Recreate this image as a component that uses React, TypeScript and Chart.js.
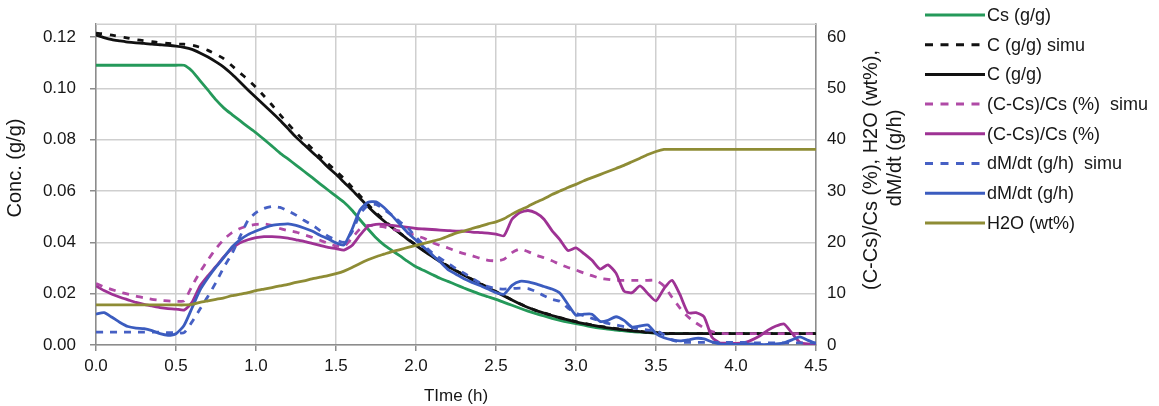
import React, { useEffect, useRef } from 'react';
import { Chart, registerables } from 'chart.js';

Chart.register(...registerables);

const FONT = "'Liberation Sans', Arial, Helvetica, sans-serif";

const times = [
  0, 0.05, 0.1, 0.15, 0.2, 0.25, 0.3, 0.35, 0.4, 0.45,
  0.5, 0.55, 0.6, 0.65, 0.7, 0.75, 0.8, 0.85, 0.9, 0.95,
  1.0, 1.05, 1.1, 1.15, 1.2, 1.25, 1.3, 1.35, 1.4, 1.45,
  1.5, 1.55, 1.6, 1.65, 1.7, 1.75, 1.8, 1.85, 1.9, 1.95,
  2.0, 2.05, 2.1, 2.15, 2.2, 2.25, 2.3, 2.35, 2.4, 2.45,
  2.5, 2.55, 2.6, 2.65, 2.7, 2.75, 2.8, 2.85, 2.9, 2.95,
  3.0, 3.05, 3.1, 3.15, 3.2, 3.25, 3.3, 3.35, 3.4, 3.45,
  3.5, 3.55, 3.6, 3.65, 3.7, 3.75, 3.8, 3.85, 3.9, 3.95,
  4.0, 4.05, 4.1, 4.15, 4.2, 4.25, 4.3, 4.35, 4.4, 4.45,
  4.5,
];

// Left axis (g/g)
const csValues = [
  0.109, 0.109, 0.109, 0.109, 0.109, 0.109, 0.109, 0.109, 0.109, 0.109,
  0.109, 0.109, 0.1068, 0.103, 0.0993, 0.0955, 0.0923, 0.0898, 0.0874, 0.085,
  0.0827, 0.0801, 0.0775, 0.0748, 0.0725, 0.0701, 0.0677, 0.0653, 0.0628, 0.0604,
  0.058, 0.0556, 0.0525, 0.0488, 0.0452, 0.0418, 0.039, 0.0368, 0.0347, 0.0325,
  0.0305, 0.029, 0.0275, 0.026, 0.0248, 0.0235, 0.0222, 0.021, 0.0198, 0.0188,
  0.0178, 0.0166, 0.0155, 0.0143, 0.0132, 0.0122, 0.0113, 0.0104, 0.0096, 0.0089,
  0.0083, 0.0077, 0.0071, 0.0066, 0.0062, 0.0058, 0.0055, 0.0052, 0.005, 0.0048,
  0.0046, 0.0044, 0.0044, 0.0044, 0.0044, 0.0044, 0.0044, 0.0044, 0.0044, 0.0044,
  0.0044, 0.0044, 0.0044, 0.0044, 0.0044, 0.0044, 0.0044, 0.0044, 0.0044, 0.0044,
  0.0044,
];

const cSimuValues = [
  0.1215, 0.1212, 0.1207, 0.1202, 0.1196, 0.119, 0.1186, 0.1182, 0.1178, 0.1175,
  0.1173, 0.1172, 0.1168, 0.116, 0.1148, 0.1133, 0.1115, 0.1088, 0.106, 0.1034,
  0.1004, 0.097, 0.0935, 0.0898, 0.0862, 0.0828, 0.0796, 0.0766, 0.0735, 0.0706,
  0.0678, 0.0648, 0.0615, 0.0582, 0.0548, 0.0516, 0.0487, 0.046, 0.0436, 0.0412,
  0.039, 0.0368, 0.0347, 0.0327, 0.0308, 0.029, 0.0273, 0.0256, 0.024, 0.0224,
  0.0208, 0.0192, 0.0176, 0.0161, 0.0147, 0.0135, 0.0125, 0.0116, 0.0107, 0.0099,
  0.0091, 0.0084, 0.0078, 0.0073, 0.0068, 0.0064, 0.006, 0.0056, 0.0053, 0.005,
  0.0048, 0.0046, 0.0045, 0.0044, 0.0044, 0.0044, 0.0044, 0.0044, 0.0044, 0.0044,
  0.0044, 0.0044, 0.0044, 0.0044, 0.0044, 0.0044, 0.0044, 0.0044, 0.0044, 0.0044,
  0.0044,
];

const cValues = [
  0.1208, 0.1198, 0.119, 0.1185, 0.118, 0.1177, 0.1175, 0.1172, 0.117, 0.1168,
  0.1165, 0.116, 0.1152, 0.1138, 0.1122, 0.1103, 0.1082, 0.1055, 0.1025, 0.0994,
  0.0964, 0.0935, 0.0906, 0.0876, 0.0843, 0.081, 0.0781, 0.0752, 0.0724, 0.0693,
  0.0665, 0.0634, 0.0604, 0.0572, 0.054, 0.051, 0.0483, 0.0458, 0.0435, 0.0411,
  0.0388, 0.0366, 0.0345, 0.0325, 0.0306, 0.0289, 0.0272, 0.0255, 0.0239, 0.0223,
  0.0207, 0.0191, 0.0175, 0.016, 0.0146, 0.0134, 0.0124, 0.0115, 0.0106, 0.0098,
  0.009, 0.0083, 0.0077, 0.0072, 0.0067, 0.0063, 0.0059, 0.0055, 0.0052, 0.0049,
  0.0047, 0.0045, 0.0044, 0.0044, 0.0044, 0.0044, 0.0044, 0.0044, 0.0044, 0.0044,
  0.0044, 0.0044, 0.0044, 0.0044, 0.0044, 0.0044, 0.0044, 0.0044, 0.0044, 0.0044,
  0.0044,
];

// Right axis (%, wt%, g/h)
const ratioSimuValues = [
  12.0, 11.3, 10.8, 10.3, 9.9, 9.5, 9.2, 8.9, 8.7, 8.6,
  8.5, 8.6, 11.5, 14.2, 16.6, 18.8, 20.6, 21.9, 22.7, 23.2,
  23.5, 23.6, 23.3, 22.7, 22.3, 22.0, 21.5, 21.0, 20.4, 19.8,
  19.3, 19.2, 20.8, 22.6, 23.3, 23.2, 23.0, 22.6, 22.2, 21.8,
  21.3, 20.8, 20.0, 19.4, 18.9, 18.3, 17.8, 17.4, 16.9, 16.5,
  16.4, 16.7, 18.0, 18.7, 18.2, 17.5, 17.0, 16.4, 15.7, 15.1,
  14.6, 14.0, 13.5, 13.0, 12.8, 12.6, 12.6, 12.6, 12.6, 12.6,
  12.6, 11.5, 9.3, 7.2, 5.5, 4.3, 3.3, 2.6, 2.3, 2.2,
  2.2, 2.2, 2.2, 2.2, 2.2, 2.2, 2.2, 2.2, 2.2, 2.2,
  2.2,
];

const ratioValues = [
  11.5, 10.6, 9.9, 9.3, 8.8, 8.3, 7.9, 7.6, 7.3, 7.1,
  7.0, 6.8, 8.3, 11.5, 13.5, 15.3, 17.2, 18.8, 19.9, 20.5,
  20.9, 21.1, 21.1, 21.0, 20.8, 20.5, 20.2, 19.8, 19.4, 19.0,
  18.8, 18.5, 19.4, 21.4, 23.1, 23.5, 23.5, 23.3, 23.1, 22.9,
  22.7, 22.6, 22.5, 22.4, 22.3, 22.2, 22.2, 22.0, 21.9, 21.8,
  21.6, 21.3, 24.5, 25.8, 26.2, 25.7, 24.5, 22.3, 20.5, 18.4,
  18.9, 17.8, 16.5, 14.8, 15.6, 14.0, 10.5, 10.2, 11.5, 10.0,
  8.6, 11.0, 12.6, 9.8, 6.3, 6.3, 5.5, 1.5, 0.4, 0.4,
  0.3, 0.4, 1.0, 1.8, 2.9, 3.7, 4.1, 2.3, 0.5, 0.2,
  0.2,
];

const dmSimuValues = [
  2.5, 2.5, 2.5, 2.5, 2.5, 2.5, 2.5, 2.5, 2.5, 2.4,
  2.4, 2.4, 4.5, 7.0, 9.5, 12.2, 15.2, 17.8, 21.1, 24.3,
  25.8, 26.6, 27.0, 26.8, 26.1, 25.3, 24.3, 23.4, 22.3, 21.2,
  20.5, 20.0, 22.0, 25.5, 27.2, 27.4, 26.4, 25.3, 24.0, 22.8,
  21.0, 19.4, 18.0, 16.9, 15.9, 14.9, 14.0, 13.0, 12.1, 11.4,
  11.0, 10.9, 11.0, 11.1, 11.0, 10.4, 9.6, 8.9, 8.5, 7.2,
  6.2, 5.7, 5.2, 4.7, 4.2, 3.9, 3.6, 3.4, 3.1, 2.9,
  2.8, 2.0, 1.0, 0.6, 0.5, 0.5, 0.5, 0.5, 0.5, 0.5,
  0.5, 0.5, 0.4, 0.4, 0.4, 0.4, 0.4, 0.4, 0.4, 0.4,
  0.4,
];

const dmValues = [
  6.0, 6.3, 5.4, 4.4, 3.6, 3.3, 3.2, 2.8, 2.2, 1.9,
  2.2, 3.8, 7.2, 10.7, 13.1, 15.2, 17.1, 19.1, 20.5, 21.5,
  22.2, 22.8, 23.3, 23.5, 23.6, 23.3, 22.8, 22.2, 21.4, 20.7,
  19.9, 19.5, 22.5, 26.3, 27.8, 27.9, 26.8, 25.2, 23.5, 21.8,
  20.4, 19.0, 17.6, 16.2, 14.7, 13.8, 12.9, 12.2, 11.6, 10.9,
  10.2, 9.9, 11.6, 12.4, 12.3, 11.9, 11.4, 10.9, 10.1, 7.9,
  5.8, 6.0, 6.0, 4.6, 4.8, 5.5, 4.8, 3.5, 3.7, 3.9,
  2.2, 1.4, 1.0, 0.8, 1.0, 1.3, 1.2, 0.6, 0.2, 0.1,
  0.1, 0.1, 0.2, 0.1, 0.1, 0.2, 0.4, 1.0, 1.6, 0.9,
  0.3,
];

const h2oValues = [
  7.8, 7.8, 7.8, 7.8, 7.8, 7.8, 7.8, 7.8, 7.8, 7.8,
  7.8, 7.8, 7.9, 8.3, 8.6, 8.9, 9.2, 9.6, 9.9, 10.2,
  10.6, 10.9, 11.2, 11.5, 11.8, 12.2, 12.5, 12.9, 13.2, 13.5,
  13.9, 14.4, 15.1, 15.9, 16.6, 17.2, 17.7, 18.2, 18.6, 19.0,
  19.4, 19.8, 20.2, 20.6, 21.2, 21.8, 22.2, 22.7, 23.1, 23.6,
  24.0, 24.6, 25.5, 26.3, 27.0, 27.8, 28.5, 29.3, 30.0, 30.7,
  31.3, 32.0, 32.6, 33.2, 33.8, 34.4, 35.0, 35.7, 36.4, 37.1,
  37.7, 38.1, 38.1, 38.1, 38.1, 38.1, 38.1, 38.1, 38.1, 38.1,
  38.1, 38.1, 38.1, 38.1, 38.1, 38.1, 38.1, 38.1, 38.1, 38.1,
  38.1,
];

const leftTicks = [0, 0.02, 0.04, 0.06, 0.08, 0.1, 0.12];
const rightTicks = [0, 10, 20, 30, 40, 50, 60];
const xTicks = [0, 0.5, 1.0, 1.5, 2.0, 2.5, 3.0, 3.5, 4.0, 4.5];

const xTitle = 'TIme (h)';
const leftTitle = 'Conc. (g/g)';
const rightTitleLines = ['(C-Cs)/Cs (%), H2O (wt%),', 'dM/dt (g/h)'];

const GREEN = '#25995a';
const BLACK = '#111111';
const MAGENTA = '#9e3294';
const MAGENTA_D = '#b04aa6';
const BLUE = '#3b5cbf';
const BLUE_D = '#4660c4';
const OLIVE = '#8e8c35';

const GRID = '#cfcfcf';
const AXIS = '#8c8c8c';
const TEXT = '#161616';

const toPoints = (vals: number[]) => times.map((t, i) => ({ x: t, y: vals[i] }));

const seriesDefs = [
  { label: 'Cs (g/g)', vals: csValues, color: GREEN, dash: [] as number[], axis: 'y' },
  { label: 'C (g/g) simu', vals: cSimuValues, color: BLACK, dash: [6, 8], axis: 'y' },
  { label: 'C (g/g)', vals: cValues, color: BLACK, dash: [] as number[], axis: 'y' },
  { label: '(C-Cs)/Cs (%)  simu', vals: ratioSimuValues, color: MAGENTA_D, dash: [7, 7], axis: 'y1' },
  { label: '(C-Cs)/Cs (%)', vals: ratioValues, color: MAGENTA, dash: [] as number[], axis: 'y1' },
  { label: 'dM/dt (g/h)  simu', vals: dmSimuValues, color: BLUE_D, dash: [7, 7], axis: 'y1' },
  { label: 'dM/dt (g/h)', vals: dmValues, color: BLUE, dash: [] as number[], axis: 'y1' },
  { label: 'H2O (wt%)', vals: h2oValues, color: OLIVE, dash: [] as number[], axis: 'y1' },
];

const keepTicks = (list: number[]) => (scale: any) => {
  scale.ticks = list.map((v) => ({ value: v }));
};

const sideLegend = {
  id: 'sideLegend',
  afterDraw(chart: any) {
    const ctx = chart.ctx;
    ctx.save();
    chart.data.datasets.forEach((ds: any, i: number) => {
      const y = 15 + 29.7 * i;
      ctx.beginPath();
      ctx.strokeStyle = ds.borderColor;
      ctx.lineWidth = 3;
      ctx.lineCap = 'butt';
      ctx.setLineDash(ds.borderDash && ds.borderDash.length ? [8, 7.5] : []);
      ctx.moveTo(925, y);
      ctx.lineTo(985, y);
      ctx.stroke();
      ctx.setLineDash([]);
      ctx.fillStyle = TEXT;
      ctx.font = `18px ${FONT}`;
      ctx.textBaseline = 'middle';
      ctx.textAlign = 'left';
      ctx.fillText(ds.label, 987, y + 1);
    });
    ctx.restore();
  },
};

const axisTitles = {
  id: 'axisTitles',
  afterDraw(chart: any) {
    const ctx = chart.ctx;
    ctx.save();
    ctx.textAlign = 'center';
    ctx.textBaseline = 'middle';
    ctx.font = `20px ${FONT}`;
    ctx.fillStyle = TEXT;
    // left title
    ctx.save();
    ctx.translate(15, 168);
    ctx.rotate(-Math.PI / 2);
    ctx.fillText(leftTitle, 0, 0);
    ctx.restore();
    // right title, two lines
    ctx.save();
    ctx.translate(871, 170);
    ctx.rotate(-Math.PI / 2);
    ctx.fillText(rightTitleLines[0], 0, 0);
    ctx.fillText(rightTitleLines[1], 12, 24);
    ctx.restore();
    ctx.restore();
  },
};

const topBorder = {
  id: 'topBorder',
  beforeDatasetsDraw(chart: any) {
    const ctx = chart.ctx;
    const { top, left, right } = chart.chartArea;
    ctx.save();
    ctx.strokeStyle = GRID;
    ctx.lineWidth = 1.5;
    ctx.beginPath();
    ctx.moveTo(left, top);
    ctx.lineTo(right, top);
    ctx.stroke();
    ctx.restore();
  },
};

export default function App() {
  const ref = useRef<HTMLCanvasElement | null>(null);

  useEffect(() => {
    if (!ref.current) return;
    Chart.defaults.font.family = FONT;
    Chart.defaults.color = TEXT;

    const datasets = seriesDefs.map((s, i) => ({
      label: s.label,
      data: toPoints(s.vals),
      borderColor: s.color,
      backgroundColor: s.color,
      borderWidth: 2.8,
      borderDash: s.dash,
      pointRadius: 0,
      tension: 0.2,
      fill: false,
      yAxisID: s.axis,
      order: seriesDefs.length - 1 - i,
    }));

    const chart = new Chart(ref.current, {
      type: 'line',
      data: { datasets },
      plugins: [topBorder, sideLegend, axisTitles],
      options: {
        animation: false,
        responsive: false,
        maintainAspectRatio: false,
        parsing: false,
        layout: { padding: { top: 12, left: 0, right: 0, bottom: 0 } },
        plugins: {
          legend: { display: false },
          tooltip: { enabled: false },
        },
        scales: {
          x: {
            type: 'linear',
            min: 0,
            max: 4.5,
            afterBuildTicks: keepTicks(xTicks),
            ticks: {
              callback: (v: any) => Number(v).toFixed(1),
              font: { size: 17 },
              color: TEXT,
              padding: 5,
              maxRotation: 0,
              autoSkip: false,
            },
            grid: { color: GRID, lineWidth: 1.5, tickLength: 6, tickColor: AXIS, tickWidth: 1.5 },
            border: { color: AXIS, width: 1.5 },
            title: {
              display: true,
              text: xTitle,
              font: { size: 17 },
              color: TEXT,
              padding: { top: 0, bottom: -1 },
            },
            afterFit: (s: any) => {
              s.height = 61;
            },
          },
          y: {
            type: 'linear',
            position: 'left',
            min: 0,
            max: 0.125,
            afterBuildTicks: keepTicks(leftTicks),
            ticks: {
              callback: (v: any) => Number(v).toFixed(2),
              font: { size: 17 },
              color: TEXT,
              padding: 14,
              autoSkip: false,
            },
            grid: { color: GRID, lineWidth: 1.5, tickLength: 6, tickColor: AXIS, tickWidth: 1.5 },
            border: { color: AXIS, width: 1.5 },
            title: { display: false },
            afterFit: (s: any) => {
              s.width = 96;
            },
          },
          y1: {
            type: 'linear',
            position: 'right',
            min: 0,
            max: 62.5,
            afterBuildTicks: keepTicks(rightTicks),
            ticks: {
              callback: (v: any) => String(Math.round(Number(v))),
              font: { size: 17 },
              color: TEXT,
              padding: 11,
              autoSkip: false,
            },
            grid: { drawOnChartArea: false, drawTicks: false },
            border: { color: AXIS, width: 1.5 },
            title: { display: false },
            afterFit: (s: any) => {
              s.width = 343;
            },
          },
        },
      },
    } as any);

    return () => {
      chart.destroy();
    };
  }, []);

  return (
    <div
      style={{
        position: 'absolute',
        left: 0,
        top: 0,
        width: 1159,
        height: 406,
        background: '#ffffff',
      }}
    >
      <canvas ref={ref} width={1159} height={406} style={{ display: 'block', width: 1159, height: 406 }} />
    </div>
  );
}
